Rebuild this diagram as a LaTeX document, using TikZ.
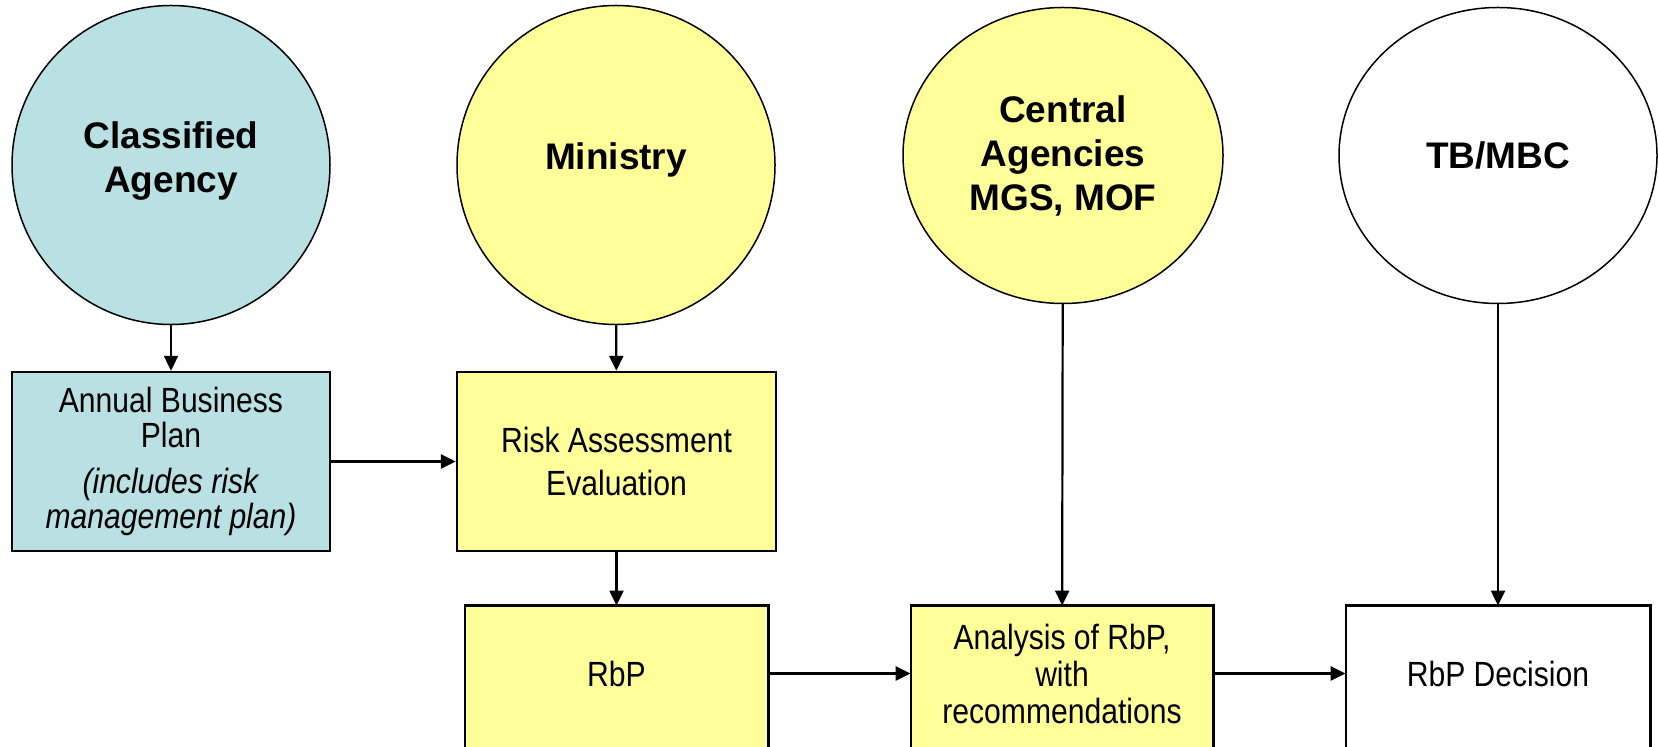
\documentclass[tikz,border=0pt]{standalone}
\usepackage{fontspec}
\setmainfont{Liberation Sans}
\newfontfamily\nfont[FakeStretch=0.86]{Liberation Sans}
\usetikzlibrary{arrows.meta,backgrounds,shapes.geometric}
\definecolor{cblue}{HTML}{B9E0E3}
\definecolor{cyellow}{HTML}{FFFF99}
\begin{document}
\begin{tikzpicture}[x=0.5pt,y=-0.5pt,
  ell/.style={ellipse, draw, line width=0.75pt, inner sep=0pt, align=center,
    font=\bfseries\fontsize{18.5}{22}\selectfont},
  boxn/.style={rectangle, draw, line width=1.2pt, inner sep=0pt, align=center,
    font=\nfont\fontsize{17.5}{21.5}\selectfont},
  openbox/.style={rectangle, draw=none, inner sep=0pt, align=center,
    font=\nfont\fontsize{17.5}{18.5}\selectfont},
  boxbg/.style={draw, line width=1.1pt},
  arr/.style={-{Triangle[length=7.5pt,width=7pt]}, line width=1.1pt},
  harr/.style={arr, line width=1.35pt}
]
\useasboundingbox (0,0) rectangle (1658,747);

% ellipses
\node[ell, fill=cblue, minimum width=159pt, minimum height=159.5pt, text depth=8pt] (ca) at (171,165) {Classified\\Agency};
\node[ell, fill=cyellow, minimum width=159pt, minimum height=159.5pt, text depth=9pt] (min) at (616,165) {Ministry};
\node[ell, fill=cyellow, minimum width=160pt, minimum height=148pt] (cen) at (1063,155.5) {Central\\Agencies\\MGS, MOF};
\node[ell, fill=white, minimum width=159pt, minimum height=148pt] (tb) at (1498,155.5) {TB/MBC};

% middle boxes
\node[boxn, fill=cblue, minimum width=159pt, minimum height=89.5pt,
  font=\nfont\fontsize{17.5}{17.75}\selectfont] (abp) at (171,461.5)
  {Annual Business\\Plan\\[5pt]\textit{(includes risk}\\\textit{management plan)}};
\node[boxn, fill=cyellow, minimum width=159.5pt, minimum height=89.5pt] (rae) at (616.5,461.5)
  {Risk Assessment\\Evaluation};

% bottom boxes (cut by the lower edge)
\node[openbox, minimum width=151.5pt, minimum height=67.5pt] (rbp) at (616.5,673.5) {RbP};
\node[openbox, minimum width=151pt, minimum height=67.5pt] (ana) at (1062,673.5)
  {Analysis of RbP,\\with\\recommendations};
\node[openbox, minimum width=152pt, minimum height=67.5pt] (dec) at (1498,673.5) {RbP Decision};

\begin{scope}[on background layer]
  \path[boxbg, fill=cyellow] (rbp.north west) rectangle ([yshift=-20pt]rbp.south east);
  \path[boxbg, fill=cyellow] (ana.north west) rectangle ([yshift=-20pt]ana.south east);
  \path[boxbg, fill=white] (dec.north west) rectangle ([yshift=-20pt]dec.south east);
\end{scope}

% connectors
\draw[arr] (ca) -- (abp);
\draw[arr] (min) -- (rae);
\draw[harr] (abp) -- (rae);
\draw[arr] (rae) -- (rbp);
\draw[arr] (cen) -- (ana);
\draw[arr] (tb) -- (dec);
\draw[harr] (rbp) -- (ana);
\draw[harr] (ana) -- (dec);
\end{tikzpicture}
\end{document}
